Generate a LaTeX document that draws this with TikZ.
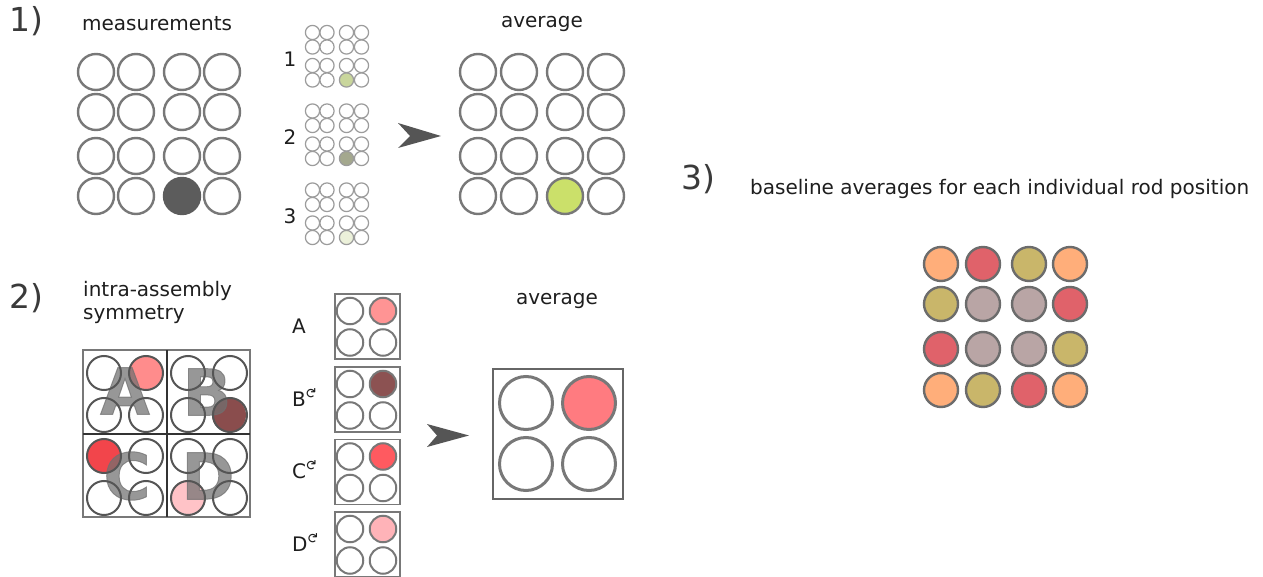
\documentclass[tikz,border=0pt]{standalone}
\usepackage{fontspec}
\usepackage{graphicx}
\setmainfont{DejaVu Sans}
\newfontfamily\quadfont{DejaVu Sans Bold}[FakeBold=1.5]
\newcommand\bodytext{\fontsize{20}{24}\selectfont}
\newcommand\steptext{\fontsize{33}{36}\selectfont}
\newcommand\quadtext{\quadfont\fontsize{64}{64}\selectfont}
\newcommand\rotmark{\raisebox{0.75ex}{\fontsize{14}{14}\selectfont\rotatebox[origin=c]{-90}{↻}}}

\definecolor{ink}{HTML}{1E1E1E}
\definecolor{steplabel}{HTML}{3A3A3A}
\definecolor{ringgray}{HTML}{787878}
\definecolor{minigray}{HTML}{9C9C9C}
\definecolor{darkrod}{HTML}{5C5C5C}
\definecolor{avggreen}{HTML}{CBE06A}
\definecolor{greenA}{HTML}{C9D69C}
\definecolor{greenB}{HTML}{A4A88E}
\definecolor{greenC}{HTML}{ECF1DA}
\definecolor{arrowgray}{HTML}{555555}
\definecolor{symA}{HTML}{FF9494}
\definecolor{symB}{HTML}{8C5252}
\definecolor{symC}{HTML}{FF5A60}
\definecolor{symD}{HTML}{FFB3B8}
\definecolor{mixA}{HTML}{FF8C8C}
\definecolor{mixB}{HTML}{7E3A3A}
\definecolor{mixC}{HTML}{F2454B}
\definecolor{mixD}{HTML}{FFC3C7}
\definecolor{avgred}{HTML}{FF7B80}
\definecolor{quadgray}{HTML}{707070}
\definecolor{quadline}{HTML}{555555}
\definecolor{peach}{HTML}{FFAE7A}
\definecolor{rodred}{HTML}{E0626A}
\definecolor{olive}{HTML}{C9B66A}
\definecolor{mauve}{HTML}{B9A5A5}

\begin{document}
\begin{tikzpicture}[x=1pt,y=-1pt,
  ring/.style={circle,draw=ringgray,line width=2.4pt,minimum size=36pt,inner sep=0pt},
  minring/.style={circle,draw=minigray,line width=1.2pt,minimum size=14.2pt,inner sep=0pt},
  quadring/.style={circle,draw=quadline,line width=2pt,minimum size=34pt,inner sep=0pt},
  boxring/.style={circle,draw=ringgray,line width=2pt,minimum size=26.5pt,inner sep=0pt},
  bigring/.style={circle,draw=ringgray,line width=3pt,minimum size=53pt,inner sep=0pt},
  colring/.style={circle,draw=ringgray!90!black,line width=2.4pt,minimum size=34pt,inner sep=0pt},
  label/.style={font=\bodytext,text=ink,inner sep=0pt},
  steplbl/.style={font=\steptext,text=steplabel,inner sep=0pt,anchor=base west},
  quadletter/.style={font=\quadtext,text=quadgray,opacity=0.72,inner sep=0pt},
  pointer/.style={fill=arrowgray},
  m43/.style={fill=darkrod,draw=darkrod},
  v43/.style={fill=avggreen},
  a43/.style={fill=greenA},
  b43/.style={fill=greenB},
  c43/.style={fill=greenC}]

\useasboundingbox (0,0) rectangle (1263,577);
\fill[white] (0,0) rectangle (1263,577);

% ---------- 1) measurements and their average ----------
\node[steplbl] (s1) at (9,32) {1)};
\node[label,anchor=base west] (tmeas) at (82,31) {measurements};
\node[label,anchor=base] (tavg1) at (542,28) {average};

\foreach \r/\y in {1/72,2/112,3/156,4/196}
  \foreach \c/\x in {1/96,2/136,3/182,4/222}
    \node[ring,m\r\c/.try] (m\r\c) at (\x,\y) {};

\foreach \r/\y in {1/72,2/112,3/156,4/196}
  \foreach \c/\x in {1/478,2/519,3/565,4/606}
    \node[ring,v\r\c/.try] (v\r\c) at (\x,\y) {};

% three small repeated measurements
\foreach \g/\top/\lbl in {a/32.5/1,b/111/2,c/190/3}{
  \node[label] (n\g) at (290,\top+26.5) {\lbl};
  \foreach \r/\dy in {1/0,2/14.5,3/33,4/47.5}
    \foreach \c/\x in {1/312.5,2/327,3/346.5,4/361.5}
      \node[minring,\g\r\c/.try] (\g\r\c) at (\x,\top+\dy) {};
}

\coordinate (p1) at (441,136);
\fill[pointer] (398,123) -- (p1) -- (398,148) -- (410,136) -- cycle;

% ---------- 2) intra-assembly symmetry ----------
\node[steplbl] (s2) at (9,308) {2)};
\node[label,anchor=base west] (tsym1) at (83,297) {intra-assembly};
\node[label,anchor=base west] (tsym2) at (83,319) {symmetry};

% coloured rods of the four quadrants
\fill[mixA] (146,373) circle (17pt);
\fill[mixB,opacity=0.9] (229,415) circle (17pt);
\fill[mixC] (104,456) circle (17pt);
\fill[mixD] (188,497) circle (17pt);

% quadrant letters
\node[quadletter] (qA) at (125,391) {A};
\node[quadletter] (qB) at (207,392) {B};
\node[quadletter] (qC) at (127,476) {C};
\node[quadletter] (qD) at (208,476) {D};

\foreach \q/\ox/\oy in {A/0/0,B/84/0,C/0/83,D/84/83}
  \foreach \i/\dx/\dy in {1/0/0,2/42/0,3/0/42,4/42/42}
    \node[quadring] (q\q\i) at (104+\ox+\dx,373+\oy+\dy) {};

\draw[ringgray,line width=1.8pt] (83,350) rectangle (250,517);
\draw[black!80,line width=1.4pt] (167,350) -- (167,517) (83,434) -- (250,434);

% rotated quadrants
\foreach \k/\top/\lbl/\fc in {A/293/A/symA,B/366/B\rotmark/symB,C/438.5/C\rotmark/symC,D/511/D\rotmark/symD}{
  \node[label,anchor=base west] (l\k) at (292,\top+40) {\lbl};
  \node[draw=ringgray,line width=1.8pt,minimum size=65pt,inner sep=0pt,anchor=north west] (sq\k) at (334,\top) {};
  \node[boxring,fill=\fc] (sq\k2) at (383,\top+18) {};
  \node[boxring] (sq\k1) at (350,\top+18) {};
  \node[boxring] (sq\k3) at (350,\top+49.5) {};
  \node[boxring] (sq\k4) at (383,\top+49.5) {};
}

\coordinate (p2) at (469,435.5);
\fill[pointer] (427,424) -- (p2) -- (427,447) -- (437,435.5) -- cycle;

\node[label,anchor=base] (tavg2) at (557,305) {average};
\node[draw=ringgray!85!black,line width=2.4pt,minimum size=130pt,inner sep=0pt] (avgbox) at (558,434) {};
\node[bigring] (r1) at (526,403) {};
\node[bigring,fill=avgred] (r2) at (589,403) {};
\node[bigring] (r3) at (526,464) {};
\node[bigring] (r4) at (589,464) {};

% ---------- 3) baseline averages ----------
\node[steplbl] (s3) at (681,190) {3)};
\node[label,anchor=base west] (tbase) at (750,195) {baseline averages for each individual rod position};

\foreach \r/\c/\col in {1/1/peach,1/2/rodred,1/3/olive,1/4/peach,
                        2/1/olive,2/2/mauve,2/3/mauve,2/4/rodred,
                        3/1/rodred,3/2/mauve,3/3/mauve,3/4/olive,
                        4/1/peach,4/2/olive,4/3/rodred,4/4/peach}{
  \pgfmathsetmacro{\xx}{{941,983,1029,1070}[\c-1]}
  \pgfmathsetmacro{\yy}{{264,304,349,390}[\r-1]}
  \node[colring,fill=\col] (b\r\c) at (\xx,\yy) {};
}
\end{tikzpicture}
\end{document}
